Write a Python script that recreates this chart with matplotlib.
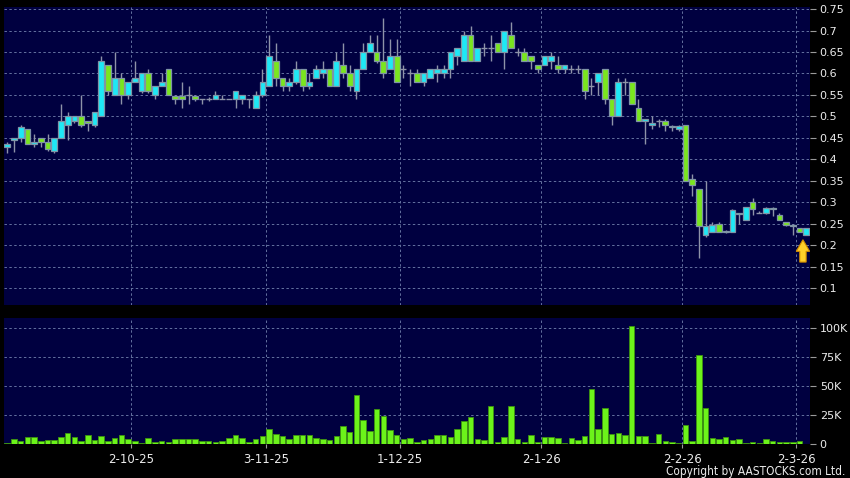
# daily candles + volume, AASTOCKS style

import numpy as np
import matplotlib.pyplot as plt
from matplotlib import font_manager

# ohlc, one entry per trading day
opens = [0.430, 0.445, 0.450, 0.470, 0.435, 0.450, 0.440, 0.420, 0.450, 0.480,
         0.490, 0.500, 0.490, 0.480, 0.500, 0.620, 0.550, 0.590, 0.550, 0.580,
         0.560, 0.600, 0.550, 0.570, 0.610, 0.548, 0.548, 0.550, 0.548, 0.540,
         0.540, 0.540, 0.540, 0.540, 0.540, 0.540, 0.540, 0.520, 0.550, 0.570,
         0.630, 0.590, 0.570, 0.580, 0.610, 0.570, 0.590, 0.600, 0.610, 0.570,
         0.620, 0.600, 0.560, 0.610, 0.650, 0.650, 0.630, 0.610, 0.640, 0.610,
         0.600, 0.600, 0.580, 0.590, 0.600, 0.600, 0.610, 0.640, 0.630, 0.690,
         0.630, 0.660, 0.660, 0.670, 0.650, 0.690, 0.650, 0.650, 0.640, 0.620,
         0.620, 0.630, 0.620, 0.610, 0.610, 0.610, 0.610, 0.570, 0.580, 0.610,
         0.540, 0.500, 0.580, 0.580, 0.520, 0.490, 0.480, 0.490, 0.490, 0.478,
         0.470, 0.480, 0.355, 0.330, 0.225, 0.232, 0.250, 0.230, 0.232, 0.275,
         0.260, 0.300, 0.275, 0.275, 0.288, 0.270, 0.255, 0.248, 0.240, 0.225]
highs = [0.440, 0.450, 0.480, 0.470, 0.460, 0.450, 0.460, 0.450, 0.530, 0.510,
         0.500, 0.550, 0.490, 0.510, 0.640, 0.620, 0.650, 0.600, 0.580, 0.630,
         0.600, 0.610, 0.570, 0.600, 0.610, 0.550, 0.580, 0.570, 0.550, 0.540,
         0.545, 0.560, 0.550, 0.540, 0.560, 0.550, 0.540, 0.560, 0.610, 0.690,
         0.670, 0.590, 0.590, 0.630, 0.610, 0.600, 0.620, 0.630, 0.610, 0.650,
         0.670, 0.620, 0.610, 0.670, 0.690, 0.690, 0.730, 0.680, 0.680, 0.620,
         0.610, 0.610, 0.600, 0.610, 0.620, 0.620, 0.650, 0.660, 0.700, 0.710,
         0.660, 0.670, 0.690, 0.670, 0.700, 0.720, 0.660, 0.660, 0.640, 0.620,
         0.640, 0.650, 0.640, 0.620, 0.620, 0.620, 0.610, 0.590, 0.600, 0.610,
         0.540, 0.590, 0.590, 0.580, 0.540, 0.495, 0.500, 0.494, 0.495, 0.480,
         0.480, 0.480, 0.365, 0.330, 0.350, 0.255, 0.255, 0.235, 0.285, 0.275,
         0.290, 0.310, 0.280, 0.290, 0.290, 0.275, 0.255, 0.250, 0.240, 0.240]
lows = [0.415, 0.418, 0.440, 0.435, 0.430, 0.430, 0.420, 0.415, 0.450, 0.445,
        0.485, 0.475, 0.465, 0.475, 0.500, 0.550, 0.550, 0.530, 0.540, 0.580,
        0.555, 0.555, 0.540, 0.570, 0.550, 0.530, 0.520, 0.530, 0.535, 0.530,
        0.535, 0.540, 0.540, 0.540, 0.520, 0.530, 0.520, 0.520, 0.545, 0.570,
        0.570, 0.560, 0.560, 0.575, 0.560, 0.565, 0.590, 0.590, 0.570, 0.570,
        0.590, 0.560, 0.540, 0.610, 0.650, 0.625, 0.590, 0.610, 0.580, 0.590,
        0.570, 0.580, 0.570, 0.590, 0.580, 0.590, 0.590, 0.620, 0.630, 0.630,
        0.630, 0.640, 0.630, 0.650, 0.610, 0.660, 0.640, 0.630, 0.610, 0.600,
        0.620, 0.610, 0.600, 0.600, 0.600, 0.600, 0.540, 0.550, 0.550, 0.530,
        0.480, 0.500, 0.550, 0.530, 0.490, 0.435, 0.470, 0.475, 0.465, 0.465,
        0.465, 0.350, 0.315, 0.170, 0.220, 0.230, 0.230, 0.228, 0.230, 0.250,
        0.258, 0.270, 0.275, 0.272, 0.268, 0.258, 0.245, 0.225, 0.230, 0.225]
closes = [0.435, 0.450, 0.475, 0.435, 0.440, 0.440, 0.425, 0.450, 0.490, 0.500,
          0.500, 0.480, 0.485, 0.510, 0.630, 0.560, 0.590, 0.550, 0.580, 0.590,
          0.600, 0.560, 0.570, 0.580, 0.550, 0.540, 0.540, 0.550, 0.540, 0.540,
          0.540, 0.550, 0.540, 0.540, 0.560, 0.550, 0.540, 0.550, 0.580, 0.640,
          0.590, 0.570, 0.580, 0.610, 0.570, 0.580, 0.610, 0.610, 0.570, 0.630,
          0.600, 0.570, 0.610, 0.650, 0.670, 0.630, 0.600, 0.640, 0.580, 0.610,
          0.600, 0.580, 0.600, 0.610, 0.610, 0.610, 0.650, 0.660, 0.690, 0.630,
          0.660, 0.660, 0.660, 0.650, 0.700, 0.660, 0.650, 0.630, 0.630, 0.610,
          0.640, 0.640, 0.610, 0.620, 0.610, 0.610, 0.560, 0.570, 0.600, 0.540,
          0.500, 0.580, 0.580, 0.530, 0.490, 0.493, 0.484, 0.490, 0.480, 0.476,
          0.478, 0.350, 0.340, 0.245, 0.245, 0.248, 0.232, 0.233, 0.283, 0.272,
          0.289, 0.285, 0.275, 0.288, 0.285, 0.260, 0.248, 0.244, 0.232, 0.240]

# volume in thousands of shares
volumes_k = [0.5, 4, 2, 5.5, 5.5, 2, 3, 3, 6, 8.7,
             6, 2, 7.5, 3, 6.4, 2, 5.2, 7, 4.3, 2.3,
             0.3, 5.2, 0.9, 2.6, 0.9, 4, 4, 4, 4, 2.3,
             2.3, 1.5, 2.3, 4.6, 7, 5.2, 0.9, 3.8, 6.4, 12.7,
             8, 6.4, 4.3, 7.5, 7, 7.5, 5, 4.3, 3, 6.4,
             15, 9.6, 42, 20, 10.7, 29.6, 23.5, 11.6, 7, 3.8,
             4.6, 1.5, 3.2, 3.5, 7, 7, 5.8, 12.5, 19.7, 22.6,
             4.3, 2.9, 32.5, 1.7, 5.8, 33, 4.3, 0.9, 7, 0.9,
             6, 5.5, 4.6, 0.8, 5, 2.9, 6.6, 47, 12.4, 30.5,
             8, 8.9, 7.8, 102, 6.9, 6.3, 0.2, 8.6, 2.6, 1.1,
             0.2, 16.4, 2.6, 76.7, 30.5, 4.9, 3.7, 5.7, 3.4, 3.7,
             0.3, 1.4, 0.3, 3.7, 2.6, 1.1, 1.1, 1.1, 2.0, 0.0]

date_labels = ['2-10-25', '3-11-25', '1-12-25', '2-1-26', '2-2-26', '2-3-26']
date_idx = [19, 39, 59, 80, 101, 118]

price_ticks = [0.1, 0.15, 0.2, 0.25, 0.3, 0.35, 0.4, 0.45, 0.5, 0.55, 0.6, 0.65, 0.7, 0.75]
vol_ticks = [0, 25, 50, 75, 100]
vol_tick_labels = ['0', '25K', '50K', '75K', '100K']

BG = '#000040'
UP = '#1ee8f5'
DOWN = '#7ae61e'
EDGE = '#7f94a6'
WICK = '#8e93a8'
GRID = '#64719f'
TXT = '#ececec'

o = np.array(opens)
h = np.array(highs)
l = np.array(lows)
c = np.array(closes)
x = np.arange(len(o))
vol = np.array(volumes_k) * 1000

fig = plt.figure(figsize=(8.5, 4.78), dpi=100, facecolor='black')
ax = fig.add_axes([4 / 850, 1 - 305 / 478, 806 / 850, 298 / 478], facecolor=BG)
axv = fig.add_axes([4 / 850, 1 - 443.5 / 478, 806 / 850, 125.5 / 478], facecolor=BG)

# candles
ax.vlines(x, l, h, color=WICK, linewidth=1, zorder=2)
up = c > o
dn = c < o
flat = c == o
ax.bar(x[up], (c - o)[up], bottom=o[up], width=0.85, color=UP,
       edgecolor=EDGE, linewidth=0.9, zorder=3)
ax.bar(x[dn], (o - c)[dn], bottom=c[dn], width=0.85, color=DOWN,
       edgecolor=EDGE, linewidth=0.9, zorder=3)
ax.hlines(o[flat], x[flat] - 0.45, x[flat] + 0.45, color=WICK, linewidth=1, zorder=3)

# little arrow at the last bar
ax.arrow(x[-1] - 0.5, 0.161, 0, 0.052, width=0.95, head_width=2.0,
         head_length=0.027, length_includes_head=True,
         fc='#ffcf2a', ec='#d08a00', linewidth=0.8, zorder=5)

# volume
axv.bar(x, vol, width=0.82, color='#6cf31a', edgecolor='#3e9410',
        linewidth=0.6, zorder=3)

for a in (ax, axv):
    a.set_xlim(-0.48, len(o) - 0.45)
    for s in a.spines.values():
        s.set_visible(False)
    a.yaxis.tick_right()
    a.set_xticks([i - 0.5 for i in date_idx])
    a.grid(True, color=GRID, linestyle=(0, (2.5, 2.5)), linewidth=0.7, zorder=1)
    a.set_axisbelow(True)
    a.tick_params(axis='y', colors='#9a9a9a', labelcolor=TXT, length=4,
                  width=0.8, pad=3, labelsize=8)
    a.tick_params(axis='x', colors='#9a9a9a', labelcolor=TXT, length=3,
                  width=0.8, pad=4, labelsize=8.5)

ax.set_ylim(0.0611, 0.7547)
ax.set_yticks(price_ticks)
ax.set_yticklabels([f'{v:g}' for v in price_ticks])
ax.tick_params(axis='x', length=0, labelbottom=False)

axv.set_ylim(0, 109000)
axv.set_yticks([v * 1000 for v in vol_ticks])
axv.set_yticklabels(vol_tick_labels)
axv.set_xticklabels(date_labels)

# condensed face if the system has it
names = {f.name for f in font_manager.fontManager.ttflist}
if 'DejaVu Sans' in names and any('Condensed' in f.fname for f in font_manager.fontManager.ttflist
                                   if f.name == 'DejaVu Sans'):
    cp = dict(family='DejaVu Sans', stretch='condensed', fontsize=8.5)
else:
    cp = dict(family='Liberation Sans', fontsize=8.5)
fig.text(0.994, 0.0135, 'Copyright by AASTOCKS.com Ltd.', color=TXT,
         ha='right', va='center', **cp)

fig.savefig('out.png', dpi=100, facecolor='black')
